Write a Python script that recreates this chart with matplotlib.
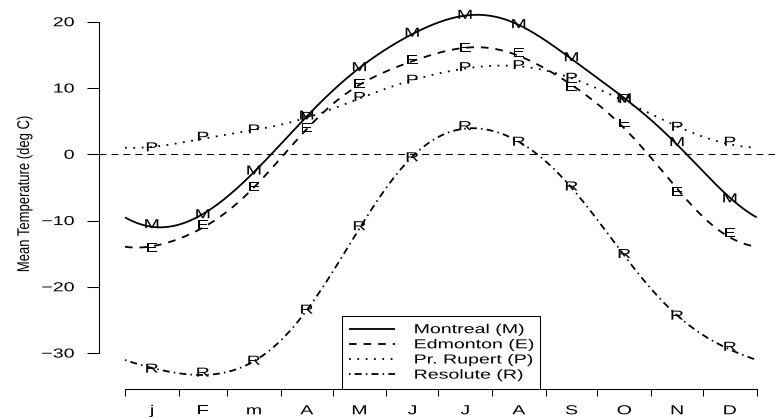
import numpy as np
import matplotlib
matplotlib.use('Agg')
import matplotlib.pyplot as plt
from matplotlib.patheffects import AbstractPathEffect
from matplotlib.transforms import Affine2D

# ---------------- data ----------------
month_ends = [0, 31, 59, 90, 120, 151, 181, 212, 243, 273, 304, 334, 365]
month_mids = [15.5, 45, 74.5, 105, 135.5, 166, 196.5, 227.5, 258, 288.5, 319, 349.5]
month_letters = ['j', 'F', 'm', 'A', 'M', 'J', 'J', 'A', 'S', 'O', 'N', 'D']

montreal = [-10.7, -9.2, -2.6, 5.7, 13.0, 18.2, 20.9, 19.5, 14.5, 8.3, 1.7, -6.8]
edmonton = [-14.3, -10.8, -5.1, 3.8, 10.5, 14.1, 15.9, 15.2, 10.0, 4.5, -5.8, -12.0]
pr_rupert = [0.9, 2.5, 3.6, 5.5, 8.5, 11.1, 13.0, 13.3, 11.4, 8.2, 4.0, 1.75]
resolute = [-32.5, -33.1, -31.3, -23.6, -11.0, -0.6, 4.1, 1.75, -5.0, -15.2, -24.5, -29.2]

station_names = ['Montreal (M)', 'Edmonton (E)', 'Pr. Rupert (P)', 'Resolute (R)']
station_letters = ['M', 'E', 'P', 'R']
y_ticks = [-30, -20, -10, 0, 10, 20]

# ---------------- styles ----------------
plt.rcParams['font.family'] = ['Liberation Sans', 'DejaVu Sans']
plt.rcParams['lines.scale_dashes'] = False
FS = 9.4
STRETCH = 1.5


class Stretch(AbstractPathEffect):
    """Draw text stretched (the reference image is horizontally stretched)."""
    def __init__(self, sx=1.0, sy=1.0, pivot='center'):
        super().__init__()
        self.sx, self.sy, self.pivot = sx, sy, pivot

    def draw_path(self, renderer, gc, tpath, affine, rgbFace=None):
        v = tpath.vertices
        if tpath.codes is not None:
            v = v[tpath.codes != 79]
        if len(v):
            x0, x1 = v[:, 0].min(), v[:, 0].max()
            y0, y1 = v[:, 1].min(), v[:, 1].max()
        else:
            x0 = x1 = y0 = y1 = 0.0
        px = {'left': x0, 'center': 0.5 * (x0 + x1), 'right': x1}[self.pivot]
        py = 0.5 * (y0 + y1)
        t = Affine2D().translate(-px, -py).scale(self.sx, self.sy).translate(px, py) + affine
        renderer.draw_path(gc, tpath, t, rgbFace)


def fourier_smooth(days, vals, nharm=4, period=365.0):
    t = np.asarray(days, float)
    y = np.asarray(vals, float)

    def basis(tt):
        cols = [np.ones_like(tt)]
        for k in range(1, nharm + 1):
            w = 2 * np.pi * k * tt / period
            cols += [np.cos(w), np.sin(w)]
        return np.column_stack(cols)

    coef, *_ = np.linalg.lstsq(basis(t), y, rcond=None)
    tt = np.linspace(0, period, 731)
    return tt, basis(tt) @ coef


# ---------------- layout (pixels) ----------------
W, H = 775, 418
AX_L, AX_B, AX_R, AX_T = 99.3, 389.3, 775.0, 8.0
DAY0_PX, PX_PER_DAY = 125.0, 1.7307
ZERO_PX, PX_PER_DEG = 154.3, 6.626

fig = plt.figure(figsize=(W / 100, H / 100), dpi=100)
ax = fig.add_axes([AX_L / W, 1 - AX_B / H, (AX_R - AX_L) / W, (AX_B - AX_T) / H])
ax.set_xlim((AX_L - DAY0_PX) / PX_PER_DAY, (AX_R - DAY0_PX) / PX_PER_DAY)
ax.set_ylim((ZERO_PX - AX_B) / PX_PER_DEG, (ZERO_PX - AX_T) / PX_PER_DEG)

series = [montreal, edmonton, pr_rupert, resolute]
dash_styles = [
    (0, ()),
    (0, (5.5, 5.0)),
    (0, (1.3, 4.7)),
    (0, (1.1, 3.0, 5.0, 3.0)),
]
lines = []
for vals, ds, lab in zip(series, dash_styles, station_names):
    tt, yy = fourier_smooth(month_mids, vals)
    ln, = ax.plot(tt, yy, color='black', lw=1.3, linestyle=ds, label=lab,
                  solid_capstyle='butt', dash_capstyle='butt', zorder=3)
    lines.append(ln)

for vals, let in zip(series, station_letters):
    for d, v in zip(month_mids, vals):
        ax.text(d, v, let, ha='center', va='center', fontsize=FS, color='black',
                zorder=4, path_effects=[Stretch(sx=STRETCH, pivot='center')])

ax.axhline(0, color='black', lw=0.75, linestyle=(0, (5.0, 3.6)), zorder=2)

# ---------------- axes ----------------
for s in ['top', 'right']:
    ax.spines[s].set_visible(False)
ax.spines['left'].set_bounds(min(y_ticks), max(y_ticks))
ax.spines['bottom'].set_bounds(month_ends[0], month_ends[-1])
for s in ['left', 'bottom']:
    ax.spines[s].set_linewidth(0.75)

ax.set_yticks(y_ticks)
ax.tick_params(axis='y', length=9, width=0.75, pad=9, labelsize=FS)
ax.set_xticks(month_ends)
ax.set_xticks(month_mids, minor=True)
ax.set_xticklabels(month_letters, minor=True)
ax.tick_params(axis='x', which='major', length=5, width=0.75, labelbottom=False)
ax.tick_params(axis='x', which='minor', length=0, pad=11.5, labelsize=FS)

for t in ax.yaxis.get_major_ticks():
    t.label1.set_path_effects([Stretch(sx=STRETCH, pivot='right')])
for t in ax.xaxis.get_minor_ticks():
    t.label1.set_path_effects([Stretch(sx=STRETCH, pivot='center')])

ax.set_ylabel('Mean Temperature (deg C)', fontsize=FS)
ax.yaxis.label.set_va('center')
ax.yaxis.set_label_coords((25 - AX_L) / (AX_R - AX_L), (AX_B - 194) / (AX_B - AX_T))
ax.yaxis.label.set_path_effects([Stretch(sy=1.3, pivot='center')])

# ---------------- legend ----------------
lx0 = (341.7 - AX_L) / (AX_R - AX_L)
lw_ = (540.0 - 341.7) / (AX_R - AX_L)
leg = ax.legend(handles=lines, labels=station_names, loc='lower left',
                bbox_to_anchor=(lx0, 0, lw_, 0.3), mode='expand', borderaxespad=0,
                fontsize=FS, fancybox=False, framealpha=1, edgecolor='black',
                borderpad=0.59, handlelength=3.5, handletextpad=1.46, labelspacing=0.23)
leg.get_frame().set_linewidth(0.75)
for t in leg.get_texts():
    t.set_path_effects([Stretch(sx=STRETCH, pivot='left')])

fig.savefig('out.png', dpi=100, facecolor='white')
